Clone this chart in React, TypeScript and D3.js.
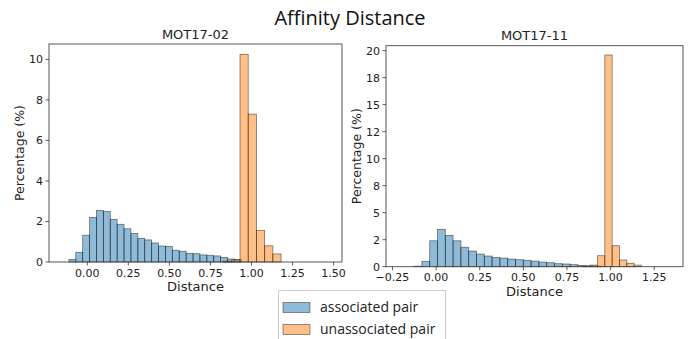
import React from "react";
import * as d3 from "d3";

const chartTitle = "Affinity Distance";
const seriesNames = ["associated pair", "unassociated pair"];

// Left panel (MOT17-02)
const leftTitle = "MOT17-02";
const leftBlueStart = -0.112;
const leftBlueWidth = 0.042;
const leftBlue = [0.13, 0.48, 1.32, 2.2, 2.55, 2.5, 2.1, 1.86, 1.64, 1.41, 1.17, 1.09, 0.94, 0.79, 0.77, 0.58, 0.53, 0.43, 0.41, 0.35, 0.33, 0.3, 0.23, 0.15, 0.12];
const leftOrangeStart = 0.83;
const leftOrangeWidth = 0.05;
const leftOrange = [0.04, 0.1, 10.25, 7.3, 1.55, 0.8, 0.4];
const leftXTicks = [0, 0.25, 0.5, 0.75, 1.0, 1.25, 1.5];
const leftXTickLabels = ["0.00", "0.25", "0.50", "0.75", "1.00", "1.25", "1.50"];
const leftYTicks = [0, 2, 4, 6, 8, 10];
const leftYTickLabels = ["0", "2", "4", "6", "8", "10"];

// Right panel (MOT17-11)
const rightTitle = "MOT17-11";
const rightBlueStart = -0.126;
const rightBlueWidth = 0.0447;
const rightBlue = [0.05, 0.5, 2.4, 3.46, 2.9, 2.4, 1.8, 1.45, 1.17, 0.99, 0.86, 0.8, 0.71, 0.65, 0.59, 0.52, 0.43, 0.37, 0.28, 0.25, 0.19, 0.12, 0.08, 0.05];
const rightOrangeStart = 0.841;
const rightOrangeWidth = 0.042;
const rightOrange = [0.04, 0.15, 1.02, 19.6, 1.94, 0.62, 0.31, 0.15];
const rightXTicks = [-0.25, 0, 0.25, 0.5, 0.75, 1.0, 1.25];
const rightXTickLabels = ["\u22120.25", "0.00", "0.25", "0.50", "0.75", "1.00", "1.25"];
const rightYTicks = [0, 2.5, 5, 7.5, 10, 12.5, 15, 17.5, 20];
const rightYTickLabels = ["0", "2", "5", "8", "10", "12", "15", "18", "20"];

const BLUE = "#1f77b4";
const ORANGE = "#ff7f0e";
const AX_FONT = "'DejaVu Sans', sans-serif";

type PanelProps = {
  title: string;
  box: { x0: number; x1: number; y0: number; y1: number };
  xDomain: [number, number];
  yMax: number;
  series: { start: number; width: number; values: number[]; color: string }[];
  xTicks: number[];
  xTickLabels: string[];
  yTicks: number[];
  yTickLabels: string[];
  titleY: number;
  ylabelX: number;
  xlabelY: number;
};

function Panel(p: PanelProps) {
  const x = d3.scaleLinear().domain(p.xDomain).range([p.box.x0, p.box.x1]);
  const y = d3.scaleLinear().domain([0, p.yMax]).range([p.box.y1, p.box.y0]);
  const cx = (p.box.x0 + p.box.x1) / 2;
  const cy = (p.box.y0 + p.box.y1) / 2;
  return (
    <g>
      {p.series.map((s, si) => (
        <g key={si}>
          {s.values.map((v, i) => {
            const a = s.start + i * s.width;
            const b = a + s.width;
            return (
              <rect
                key={i}
                x={x(a)}
                y={y(v)}
                width={x(b) - x(a)}
                height={y(0) - y(v)}
                fill={s.color}
                fillOpacity={0.5}
                stroke="#000"
                strokeOpacity={0.5}
                strokeWidth={0.8}
              />
            );
          })}
        </g>
      ))}
      <rect
        x={p.box.x0}
        y={p.box.y0}
        width={p.box.x1 - p.box.x0}
        height={p.box.y1 - p.box.y0}
        fill="none"
        stroke="#444"
        strokeWidth={0.9}
      />
      {p.xTicks.map((t, i) => (
        <g key={i}>
          <line x1={x(t)} x2={x(t)} y1={p.box.y1} y2={p.box.y1 + 3.5} stroke="#333" strokeWidth={0.8} />
          <text
            x={x(t)}
            y={p.box.y1 + 14.5}
            textAnchor="middle"
            fontFamily={AX_FONT}
            fontSize={11}
            fill="#222"
          >
            {p.xTickLabels[i]}
          </text>
        </g>
      ))}
      {p.yTicks.map((t, i) => (
        <g key={i}>
          <line x1={p.box.x0 - 3.5} x2={p.box.x0} y1={y(t)} y2={y(t)} stroke="#333" strokeWidth={0.8} />
          <text
            x={p.box.x0 - 6}
            y={y(t) + 4}
            textAnchor="end"
            fontFamily={AX_FONT}
            fontSize={11}
            fill="#222"
          >
            {p.yTickLabels[i]}
          </text>
        </g>
      ))}
      <text x={cx} y={p.titleY} textAnchor="middle" fontFamily={AX_FONT} fontSize={13} fill="#222">
        {p.title}
      </text>
      <text x={cx} y={p.xlabelY} textAnchor="middle" fontFamily={AX_FONT} fontSize={13} fill="#222">
        Distance
      </text>
      <text
        transform={`translate(${p.ylabelX},${cy}) rotate(-90)`}
        textAnchor="middle"
        dominantBaseline="central"
        fontFamily={AX_FONT}
        fontSize={12.5}
        fill="#222"
      >
        Percentage (%)
      </text>
    </g>
  );
}

export default function App() {
  return (
    <svg
      width={699}
      height={339}
      style={{ position: "absolute", left: 0, top: 0, background: "#fff" }}
    >
      <rect x={0} y={0} width={699} height={339} fill="#fff" />
      <text x={350} y={25} textAnchor="middle" fontFamily="'Open Sans', sans-serif" fontSize={20} fill="#111">
        {chartTitle}
      </text>
      <Panel
        title={leftTitle}
        box={{ x0: 49, x1: 342, y0: 44, y1: 262 }}
        xDomain={[-0.233, 1.551]}
        yMax={10.76}
        series={[
          { start: leftBlueStart, width: leftBlueWidth, values: leftBlue, color: BLUE },
          { start: leftOrangeStart, width: leftOrangeWidth, values: leftOrange, color: ORANGE },
        ]}
        xTicks={leftXTicks}
        xTickLabels={leftXTickLabels}
        yTicks={leftYTicks}
        yTickLabels={leftYTickLabels}
        titleY={39}
        ylabelX={19}
        xlabelY={291}
      />
      <Panel
        title={rightTitle}
        box={{ x0: 386, x1: 683, y0: 45.7, y1: 266.7 }}
        xDomain={[-0.287, 1.415]}
        yMax={20.46}
        series={[
          { start: rightBlueStart, width: rightBlueWidth, values: rightBlue, color: BLUE },
          { start: rightOrangeStart, width: rightOrangeWidth, values: rightOrange, color: ORANGE },
        ]}
        xTicks={rightXTicks}
        xTickLabels={rightXTickLabels}
        yTicks={rightYTicks}
        yTickLabels={rightYTickLabels}
        titleY={40}
        ylabelX={356.5}
        xlabelY={296}
      />
      {/* Legend */}
      <g>
        <rect x={278.5} y={290.5} width={167} height={52} fill="#fff" stroke="#ccc" strokeWidth={1} />
        {seriesNames.map((name, i) => (
          <g key={i}>
            <rect
              x={283}
              y={302.5 + i * 22}
              width={27}
              height={10}
              fill={i === 0 ? BLUE : ORANGE}
              fillOpacity={0.5}
              stroke="#000"
              strokeOpacity={0.5}
              strokeWidth={0.8}
            />
            <text
              x={320}
              y={312 + i * 22}
              fontFamily="'Open Sans', sans-serif"
              fontSize={14}
              fill="#222"
            >
              {name}
            </text>
          </g>
        ))}
      </g>
    </svg>
  );
}
